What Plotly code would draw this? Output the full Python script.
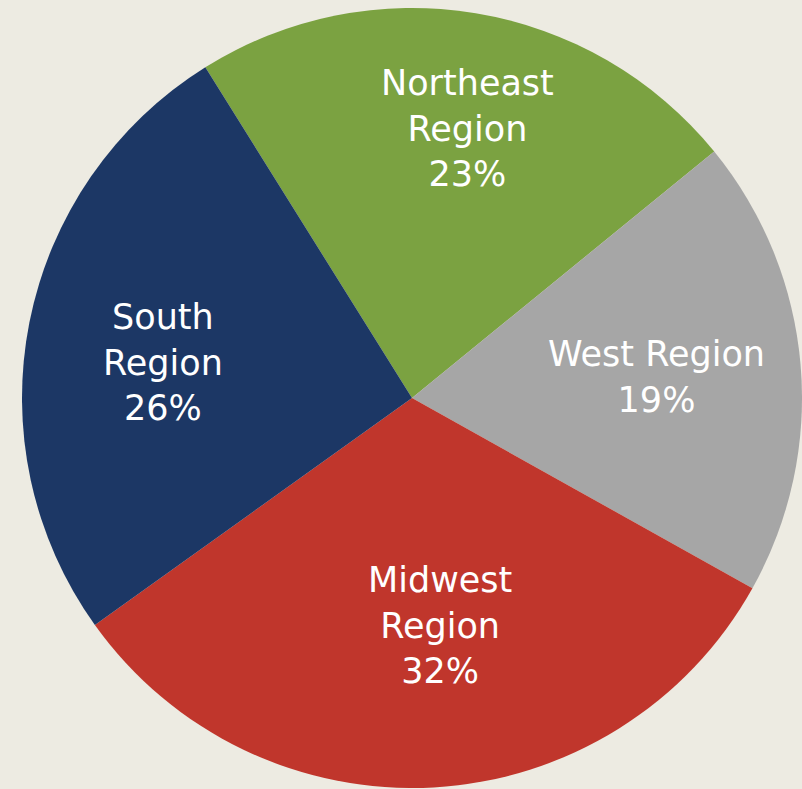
import math

import plotly.graph_objects as go

# slice order is clockwise, starting from the South/Northeast boundary
regions = ["Northeast<br>Region", "West Region", "Midwest<br>Region", "South<br>Region"]
shares = [23, 19, 32, 26]
colors = ["#7BA241", "#A6A6A6", "#C0362C", "#1C3765"]

W, H = 802, 789
cx, cy, r = 412, 398, 390
start_angle = -32  # degrees clockwise from 12 o'clock
label_radius = [0.70, 0.63, 0.58, 0.65]  # fraction of radius where each label sits
label_nudge = [(11, 0), (0, 0), (15, -2), (0, -14)]  # small pixel tweaks (x, y up)

fig = go.Figure(
    go.Pie(
        labels=regions,
        values=shares,
        sort=False,
        direction="clockwise",
        rotation=start_angle,
        marker=dict(colors=colors, line=dict(width=0)),
        textinfo="none",
        hoverinfo="label+percent",
        domain=dict(
            x=[(cx - r) / W, (cx + r) / W],
            y=[(H - cy - r) / H, (H - cy + r) / H],
        ),
        showlegend=False,
    )
)

# labels sit on each slice's bisector, like the office chart they come from
total = sum(shares)
acc = 0
for name, val, frac, (dx, dy) in zip(regions, shares, label_radius, label_nudge):
    mid = math.radians(start_angle + (acc + val / 2) / total * 360)
    acc += val
    px = cx + frac * r * math.sin(mid)
    py = cy - frac * r * math.cos(mid)
    fig.add_annotation(
        x=px / W,
        y=1 - py / H,
        xref="paper",
        yref="paper",
        xanchor="center",
        yanchor="middle",
        xshift=dx,
        yshift=dy,
        text=f"{name}<br>{round(val / total * 100)}%",
        showarrow=False,
        font=dict(family="DejaVu Sans", size=35, color="white"),
    )

fig.update_layout(
    width=W,
    height=H,
    margin=dict(l=0, r=0, t=0, b=0),
    paper_bgcolor="#EDEBE2",
    plot_bgcolor="#EDEBE2",
)

fig.write_html(
    "out.html",
    config={"displayModeBar": False},
    post_script="document.body.style.margin='0px';document.body.style.background='#EDEBE2';",
)
